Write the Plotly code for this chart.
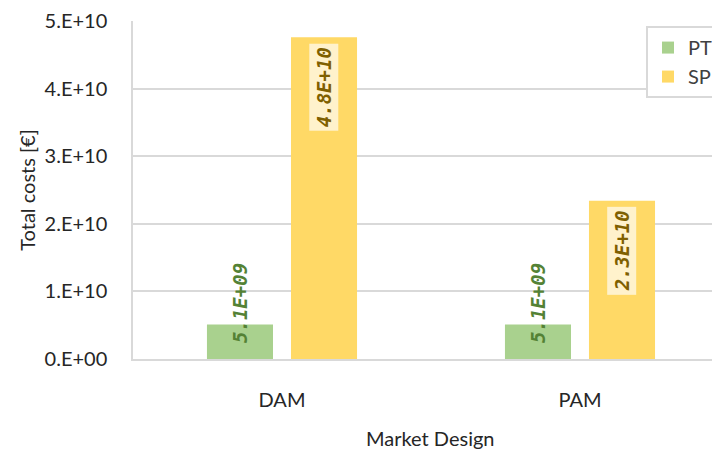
import plotly.graph_objects as go

# Total costs per market design, split into PT and SP
categories = ["DAM", "PAM"]
pt_costs = [5.1e9, 5.1e9]
sp_costs = [4.76e10, 2.34e10]

y_ticks = [0, 1e10, 2e10, 3e10, 4e10, 5e10]
y_tick_labels = ["0.E+00", "1.E+10", "2.E+10", "3.E+10", "4.E+10", "5.E+10"]

PT_COLOR = "#a9d18e"
SP_COLOR = "#ffd966"
GRID = "#d9d9d9"
FONT = "Lato"
TEXT = "#262626"

BARGAP = 0.436
BARGROUPGAP = 0.214

fig = go.Figure()
fig.add_trace(go.Bar(name="PT", x=categories, y=pt_costs, marker_color=PT_COLOR,
                     marker_line_width=0))
fig.add_trace(go.Bar(name="SP", x=categories, y=sp_costs, marker_color=SP_COLOR,
                     marker_line_width=0))

# offset of each bar centre from its category centre (in category units)
slot = (1 - BARGAP) / 2
offsets = [-slot / 2, slot / 2]

annotations = []
for i, cat in enumerate(categories):
    # PT label: rotated, sitting near the baseline
    annotations.append(dict(
        x=i + offsets[0], y=0, xref="x", yref="y",
        text=f"{pt_costs[i]:.1E}", textangle=-90, showarrow=False,
        xanchor="center", yanchor="bottom", yshift=14,
        font=dict(family="DejaVu Sans Mono", size=19, color="#548235",
                  weight="bold", style="italic"),
    ))
    # SP label: rotated, inside the top of the bar on a light box
    annotations.append(dict(
        x=i + offsets[1], y=sp_costs[i], xref="x", yref="y",
        text=f"{sp_costs[i]:.1E}", textangle=-90, showarrow=False,
        xanchor="center", yanchor="top", yshift=-6,
        bgcolor="#fff2cc", borderpad=3,
        font=dict(family="DejaVu Sans Mono", size=19, color="#7f6000",
                  weight="bold", style="italic"),
    ))

# x-axis title centred between the two categories
annotations.append(dict(
    x=0.5, y=0, xref="x", yref="paper", text="Market Design", showarrow=False,
    xanchor="center", yanchor="middle", yshift=-79,
    font=dict(family=FONT, size=20, color=TEXT),
))

fig.update_layout(
    width=712, height=455,
    margin=dict(l=133, r=0, t=21, b=96, autoexpand=False),
    paper_bgcolor="white", plot_bgcolor="white",
    barmode="group", bargap=BARGAP, bargroupgap=BARGROUPGAP,
    font=dict(family=FONT, size=20, color=TEXT),
    xaxis=dict(
        range=[-0.5, 1.443], showgrid=False, showline=True,
        linecolor=GRID, linewidth=2, ticks="", ticklabelstandoff=22,
        tickfont=dict(family=FONT, size=20, color=TEXT),
    ),
    yaxis=dict(
        range=[0, 5e10], tickvals=y_ticks, ticktext=y_tick_labels,
        showgrid=True, gridcolor=GRID, gridwidth=1.5,
        showline=True, linecolor=GRID, linewidth=1.5, zeroline=False,
        ticks="", ticklabelstandoff=20,
        tickfont=dict(family=FONT, size=20, color=TEXT),
        title=dict(text="Total costs [€]", standoff=4,
                   font=dict(family=FONT, size=20, color=TEXT)),
    ),
    legend=dict(
        x=0.886, y=0.985, xanchor="left", yanchor="top",
        bgcolor="white", bordercolor=GRID, borderwidth=2,
        font=dict(family=FONT, size=20, color="#404040"),
    ),
    annotations=annotations,
    showlegend=True,
)

fig.write_html("out.html")
